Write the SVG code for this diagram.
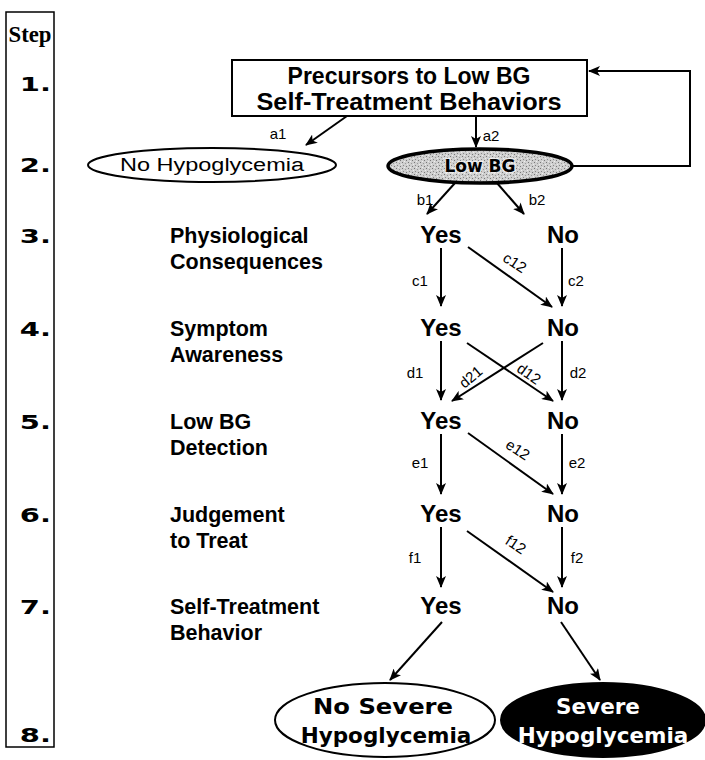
<svg xmlns="http://www.w3.org/2000/svg" width="705" height="760" viewBox="0 0 705 760">
  <style>
    .step { font-family: "DejaVu Sans", sans-serif; font-weight: bold; font-size: 20px; fill: #000; text-anchor: end; }
    .stephdr { font-family: "Liberation Serif", serif; font-weight: bold; font-size: 24px; }
    .lbl { font-family: "Liberation Sans", Arial, sans-serif; font-weight: bold; font-size: 21.5px; fill: #000; }
    .yn { font-family: "Liberation Sans", Arial, sans-serif; font-weight: bold; font-size: 24px; fill: #000; text-anchor: middle; }
    .edge { font-family: "Liberation Sans", Arial, sans-serif; font-size: 15px; fill: #000; text-anchor: middle; }
    .title { font-family: "Liberation Sans", Arial, sans-serif; font-weight: bold; font-size: 23px; text-anchor: middle; }
    .outcome { font-family: "DejaVu Sans", sans-serif; font-weight: bold; font-size: 21.5px; text-anchor: middle; }
    .conn line, .conn path { stroke: #000; stroke-width: 2; fill: none; marker-end: url(#ah); }
  </style>
  <defs>
    <marker id="ah" viewBox="0 0 12 10" refX="11" refY="5" markerWidth="12" markerHeight="10" orient="auto" markerUnits="userSpaceOnUse">
      <path d="M0,0 L12,5 L0,10 L3,5 Z" fill="#000"/>
    </marker>
    <pattern id="stipple" width="6" height="6" patternUnits="userSpaceOnUse">
      <rect width="6" height="6" fill="#cfcfcf"/>
      <rect x="0" y="0" width="1" height="1" fill="#777"/>
      <rect x="3" y="1" width="1" height="1" fill="#999"/>
      <rect x="1" y="3" width="1" height="1" fill="#888"/>
      <rect x="4" y="4" width="1" height="1" fill="#777"/>
      <rect x="5" y="2" width="1" height="1" fill="#eee"/>
      <rect x="2" y="5" width="1" height="1" fill="#eee"/>
    </pattern>
  </defs>

  <rect width="705" height="760" fill="#fff"/>

  <!-- step column -->
  <g id="steps">
    <rect x="6" y="12" width="48" height="735" fill="none" stroke="#000" stroke-width="1.5"/>
    <text class="stephdr" x="30" y="42" text-anchor="middle" textLength="43" lengthAdjust="spacingAndGlyphs">Step</text>
    <text class="step" transform="translate(51,91) scale(1.45,1)">1.</text>
    <text class="step" transform="translate(51,172) scale(1.45,1)">2.</text>
    <text class="step" transform="translate(51,243) scale(1.45,1)">3.</text>
    <text class="step" transform="translate(51,336) scale(1.45,1)">4.</text>
    <text class="step" transform="translate(51,429) scale(1.45,1)">5.</text>
    <text class="step" transform="translate(51,522) scale(1.45,1)">6.</text>
    <text class="step" transform="translate(51,614) scale(1.45,1)">7.</text>
    <text class="step" transform="translate(51,742) scale(1.45,1)">8.</text>
  </g>

  <!-- row labels -->
  <g id="labels">
    <text class="lbl" x="170" y="243">Physiological</text>
    <text class="lbl" x="170" y="269">Consequences</text>
    <text class="lbl" x="170" y="336">Symptom</text>
    <text class="lbl" x="170" y="362">Awareness</text>
    <text class="lbl" x="170" y="429">Low BG</text>
    <text class="lbl" x="170" y="455">Detection</text>
    <text class="lbl" x="170" y="522">Judgement</text>
    <text class="lbl" x="170" y="548">to Treat</text>
    <text class="lbl" x="170" y="614">Self-Treatment</text>
    <text class="lbl" x="170" y="640">Behavior</text>
  </g>

  <g id="precursors">
    <rect x="232" y="60" width="355" height="56" fill="#fff" stroke="#000" stroke-width="2"/>
    <text class="title" x="409" y="84">Precursors to Low BG</text>
    <text class="title" x="409" y="110" textLength="305" lengthAdjust="spacingAndGlyphs">Self-Treatment Behaviors</text>
  </g>

  <g id="no-hypo">
    <ellipse cx="212" cy="165" rx="124" ry="17" fill="#fff" stroke="#000" stroke-width="2"/>
    <text x="212" y="171" text-anchor="middle" font-family="Liberation Sans, Arial, sans-serif" font-size="18" textLength="184" lengthAdjust="spacingAndGlyphs">No Hypoglycemia</text>
  </g>

  <g id="low-bg">
    <ellipse cx="480" cy="166" rx="92" ry="17" fill="url(#stipple)" stroke="#000" stroke-width="3.5"/>
    <text x="480" y="172" text-anchor="middle" font-family="DejaVu Sans, sans-serif" font-weight="bold" font-size="17" stroke="#fff" stroke-width="2.5" paint-order="stroke" stroke-opacity="0.6">Low BG</text>
  </g>

  <g id="r3-yes"><text class="yn" x="441" y="243">Yes</text></g>
  <g id="r3-no"><text class="yn" x="563" y="243">No</text></g>
  <g id="r4-yes"><text class="yn" x="441" y="336">Yes</text></g>
  <g id="r4-no"><text class="yn" x="563" y="336">No</text></g>
  <g id="r5-yes"><text class="yn" x="441" y="429">Yes</text></g>
  <g id="r5-no"><text class="yn" x="563" y="429">No</text></g>
  <g id="r6-yes"><text class="yn" x="441" y="522">Yes</text></g>
  <g id="r6-no"><text class="yn" x="563" y="522">No</text></g>
  <g id="r7-yes"><text class="yn" x="441" y="614">Yes</text></g>
  <g id="r7-no"><text class="yn" x="563" y="614">No</text></g>

  <g id="no-severe">
    <ellipse cx="385" cy="720" rx="110" ry="37" fill="#fff" stroke="#000" stroke-width="2"/>
    <text class="outcome" x="383" y="714" textLength="140" lengthAdjust="spacingAndGlyphs">No Severe</text>
    <text class="outcome" x="386" y="743">Hypoglycemia</text>
  </g>

  <g id="severe">
    <ellipse cx="603" cy="720" rx="102" ry="37" fill="#000" stroke="#000" stroke-width="2"/>
    <text class="outcome" x="598" y="714" fill="#fff">Severe</text>
    <text class="outcome" x="603" y="743" fill="#fff">Hypoglycemia</text>
  </g>

  <!-- connectors -->
  <g class="conn" id="connectors">
    <line x1="347" y1="116" x2="306" y2="145"/>
    <line x1="476" y1="116" x2="476" y2="147"/>
    <path d="M572,166 H690 V71 H589"/>
    <line x1="455" y1="183" x2="427" y2="214"/>
    <line x1="497" y1="183" x2="524" y2="214"/>

    <line x1="441" y1="248" x2="441" y2="306"/>
    <line x1="468" y1="247" x2="552" y2="307"/>
    <line x1="562" y1="248" x2="562" y2="306"/>

    <line x1="441" y1="341" x2="441" y2="400"/>
    <line x1="467" y1="343" x2="553" y2="401"/>
    <line x1="543" y1="343" x2="452" y2="401"/>
    <line x1="562" y1="341" x2="562" y2="400"/>

    <line x1="441" y1="434" x2="441" y2="494"/>
    <line x1="468" y1="433" x2="553" y2="494"/>
    <line x1="562" y1="434" x2="562" y2="494"/>

    <line x1="441" y1="527" x2="441" y2="587"/>
    <line x1="467" y1="531" x2="553" y2="592"/>
    <line x1="562" y1="527" x2="562" y2="587"/>

    <line x1="442" y1="622" x2="390" y2="680"/>
    <line x1="561" y1="622" x2="600" y2="680"/>
  </g>

  <!-- connector labels -->
  <g id="edge-labels">
    <text class="edge" x="278" y="139">a1</text>
    <text class="edge" x="491" y="141">a2</text>
    <text class="edge" x="425" y="205">b1</text>
    <text class="edge" x="537" y="205">b2</text>
    <text class="edge" x="420" y="286">c1</text>
    <text class="edge" x="576" y="286">c2</text>
    <text class="edge" transform="translate(512,267) rotate(33)">c12</text>
    <text class="edge" x="415" y="378">d1</text>
    <text class="edge" x="578" y="378">d2</text>
    <text class="edge" transform="translate(474,381) rotate(-40)">d21</text>
    <text class="edge" transform="translate(526,378) rotate(35)">d12</text>
    <text class="edge" x="420" y="468">e1</text>
    <text class="edge" x="577" y="468">e2</text>
    <text class="edge" transform="translate(515,454) rotate(33)">e12</text>
    <text class="edge" x="415" y="563">f1</text>
    <text class="edge" x="577" y="563">f2</text>
    <text class="edge" transform="translate(513,549) rotate(33)">f12</text>
  </g>
</svg>
